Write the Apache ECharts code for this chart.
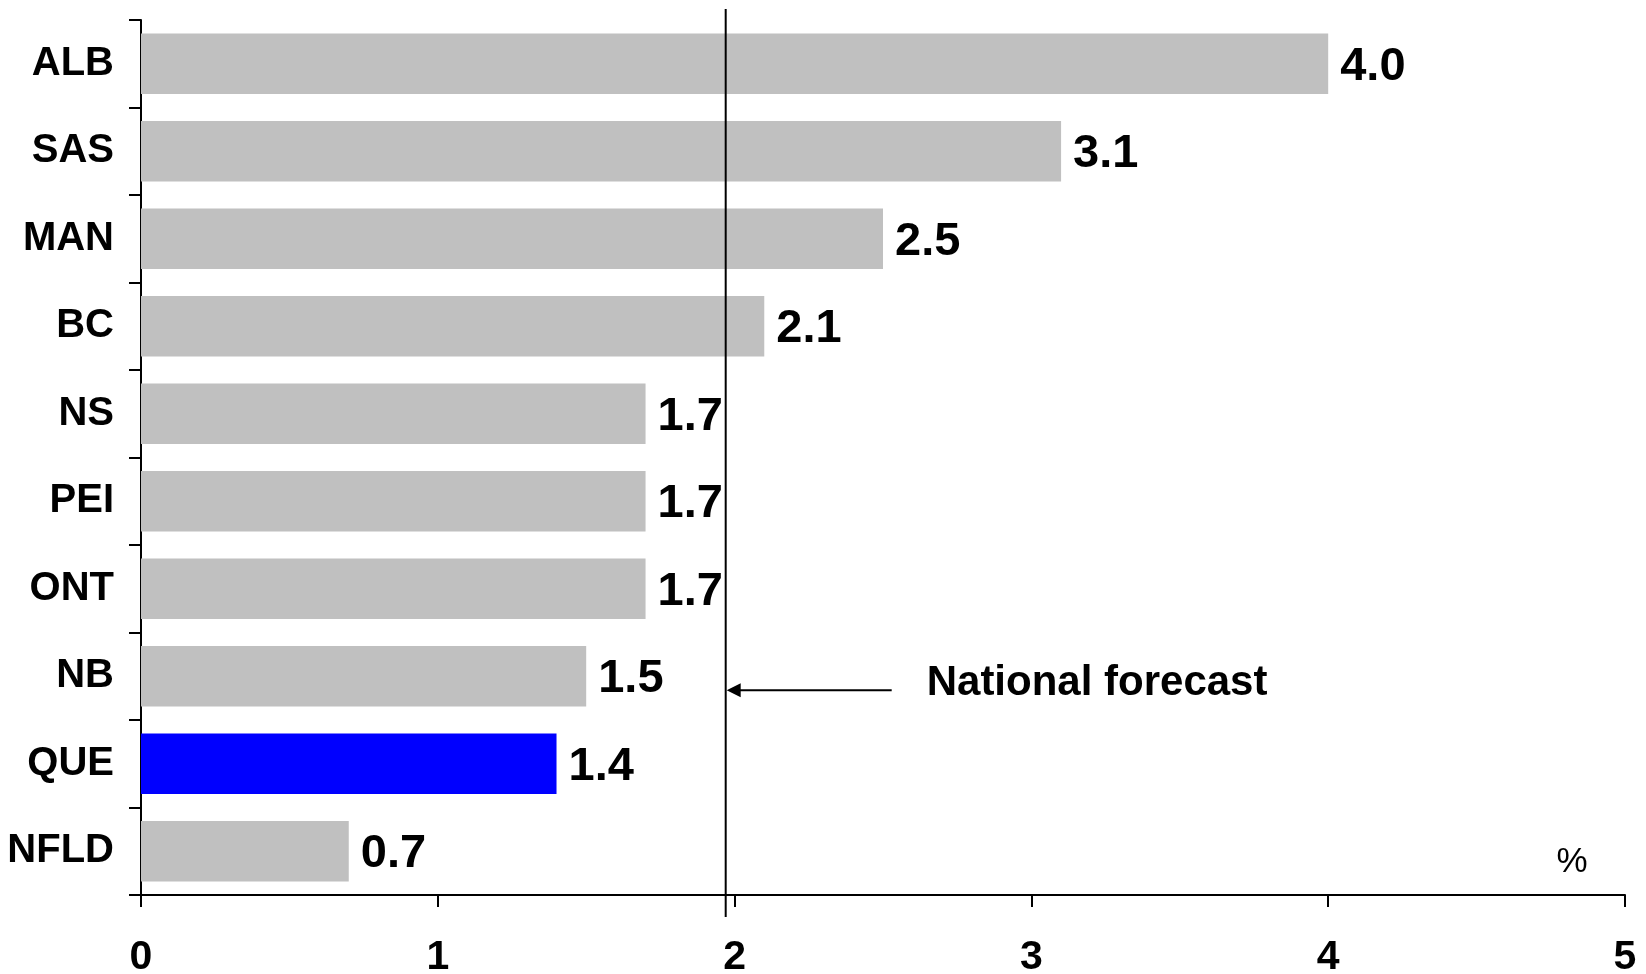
<!DOCTYPE html>
<html>
<head>
<meta charset="utf-8">
<title>Provincial growth forecast</title>
<script src="https://cdn.jsdelivr.net/npm/echarts@6/dist/echarts.min.js"></script>
<style>
  html, body { margin: 0; padding: 0; background: #fff; }
  #chart { width: 1646px; height: 974px; }
</style>
</head>
<body>
<div id="chart"></div>
<script>
// Provinces, top to bottom
const provinces = ['ALB', 'SAS', 'MAN', 'BC', 'NS', 'PEI', 'ONT', 'NB', 'QUE', 'NFLD'];
// Forecast growth, %
const growth = [4.0, 3.1, 2.5, 2.1, 1.7, 1.7, 1.7, 1.5, 1.4, 0.7];
// Province drawn in the highlight colour
const highlighted = 'QUE';
// National forecast reference value, %
const nationalForecast = [1.97];
// Value-axis ticks
const xTicks = [0, 1, 2, 3, 4, 5];

const FONT = "'Liberation Sans', Arial, sans-serif";

const chart = echarts.init(document.getElementById('chart'), null, { renderer: 'canvas' });

const barData = provinces.map((p, i) => ({
  value: growth[i],
  itemStyle: { color: p === highlighted ? '#0000ff' : '#c0c0c0' }
}));

chart.setOption({
  animation: false,
  backgroundColor: '#ffffff',
  grid: {
    left: 141, right: 21, top: 20, bottom: 79,
    containLabel: false, outerBoundsMode: 'none'
  },
  xAxis: {
    type: 'value',
    min: xTicks[0],
    max: xTicks[xTicks.length - 1],
    interval: 1,
    axisLine: { show: true, onZero: false, lineStyle: { color: '#000', width: 2 } },
    axisTick: { show: true, length: 12, inside: false, lineStyle: { color: '#000', width: 2 } },
    splitLine: { show: false },
    axisLabel: {
      color: '#000', fontFamily: FONT, fontWeight: 'bold', fontSize: 41, margin: 42
    }
  },
  yAxis: {
    type: 'category',
    data: provinces,
    inverse: true,
    axisLine: { show: true, lineStyle: { color: '#000', width: 2 } },
    axisTick: { show: true, length: 12, inside: false, lineStyle: { color: '#000', width: 2 } },
    splitLine: { show: false },
    axisLabel: {
      color: '#000', fontFamily: FONT, fontWeight: 'bold', fontSize: 40, margin: 27,
      padding: [12, 0, 0, 0]
    }
  },
  graphic: [{
    type: 'text',
    x: 1572, y: 862,
    style: {
      text: '%', fill: '#000', font: "35px 'Liberation Sans', Arial, sans-serif",
      textAlign: 'center', textVerticalAlign: 'middle'
    }
  }],
  series: [
    {
      type: 'bar',
      data: barData,
      barCategoryGap: '31%',
      label: {
        show: true,
        position: 'right',
        distance: 12,
        offset: [0, 3],
        color: '#000',
        fontFamily: FONT,
        fontWeight: 'bold',
        fontSize: 47,
        formatter: p => p.value.toFixed(1)
      },
      z: 2
    },
    {
      // National forecast line with its pointer and caption
      type: 'custom',
      coordinateSystem: 'cartesian2d',
      data: nationalForecast.map(v => [v, 'NB']),
      z: 5,
      renderItem: function (params, api) {
        const cs = params.coordSys;
        const pt = api.coord([api.value(0), 'NB']);
        const x = pt[0];
        const ay = pt[1] + 14;
        return {
          type: 'group',
          children: [
            {
              type: 'line',
              shape: { x1: x, y1: cs.y - 11, x2: x, y2: cs.y + cs.height + 22 },
              style: { stroke: '#000', lineWidth: 2 }
            },
            {
              type: 'line',
              shape: { x1: x + 12, y1: ay, x2: x + 166, y2: ay },
              style: { stroke: '#000', lineWidth: 2 }
            },
            {
              type: 'polygon',
              shape: { points: [[x + 1, ay], [x + 15, ay - 7], [x + 15, ay + 7]] },
              style: { fill: '#000' }
            },
            {
              type: 'text',
              x: x + 201, y: ay - 7,
              style: {
                text: 'National forecast', fill: '#000',
                font: "bold 42px " + FONT,
                textAlign: 'left', textVerticalAlign: 'middle'
              }
            }
          ]
        };
      }
    }
  ]
});
</script>
</body>
</html>
